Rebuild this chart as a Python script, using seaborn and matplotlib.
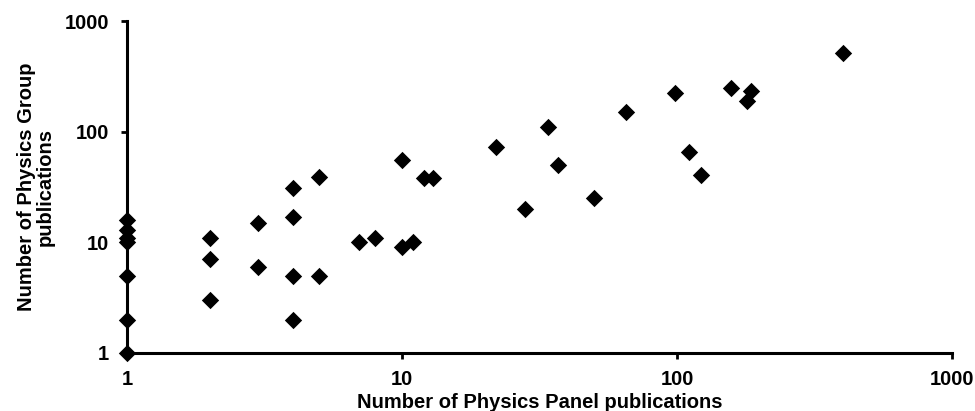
import numpy as np
import pandas as pd
import matplotlib
matplotlib.use("Agg")
import matplotlib.pyplot as plt
import seaborn as sns

# ==============================
# Data
# ==============================
panel_pubs = [1, 1, 1, 1, 1, 1, 1,
              2, 2, 2, 3, 3, 4, 4, 4, 4, 5, 5,
              7, 8, 10, 10, 11, 12, 13,
              22, 28, 34, 37, 50, 65,
              98, 111, 122, 157, 180, 186, 400]
group_pubs = [16, 13, 11, 10, 5, 2, 1,
              11, 7, 3, 15, 6, 31, 17, 5, 2, 39, 5,
              10, 11, 56, 9, 10, 38, 38,
              72, 20, 110, 50, 25, 150,
              223, 65, 41, 248, 189, 233, 513]

tick_values = [1, 10, 100, 1000]
tick_labels = ["1", "10", "100", "1000"]

df = pd.DataFrame({"panel": panel_pubs, "group": group_pubs})

# ==============================
# Plot
# ==============================
sns.set_style("white")
plt.rcParams["font.family"] = ["Liberation Sans", "DejaVu Sans"]
plt.rcParams["font.weight"] = "bold"

fig = plt.figure(figsize=(9.75, 4.11), dpi=100)
ax = fig.add_axes([127 / 975, 1 - 353 / 411, 825 / 975, 332 / 411])

sns.scatterplot(data=df, x="panel", y="group", marker="D", s=78,
                color="black", edgecolor="black", linewidth=0, ax=ax)
ax.collections[0].set_clip_on(False)
ax.collections[0].set_zorder(5)

ax.set_xscale("log")
ax.set_yscale("log")
ax.set_xlim(1, 1000)
ax.set_ylim(1, 1000)

ax.set_xticks(tick_values)
ax.set_xticklabels(tick_labels)
ax.set_yticks(tick_values)
ax.set_yticklabels(tick_labels)
ax.minorticks_off()

ax.tick_params(axis="both", which="major", direction="out", length=4,
               width=2, color="black", labelsize=14.5, labelcolor="black")
ax.tick_params(axis="x", pad=8)
ax.tick_params(axis="y", pad=9)
ax.xaxis.set_ticks_position("bottom")
ax.yaxis.set_ticks_position("left")

for side in ["top", "right"]:
    ax.spines[side].set_visible(False)
for side in ["left", "bottom"]:
    ax.spines[side].set_linewidth(2.2)
    ax.spines[side].set_color("black")

ax.set_xlabel("Number of Physics Panel publications", fontsize=14.5,
              fontweight="bold", color="black", labelpad=3)
ax.set_ylabel("Number of Physics Group\npublications", fontsize=14.5,
              fontweight="bold", color="black", labelpad=7,
              multialignment="center", linespacing=1.0)
ax.grid(False)

plt.savefig("out.png", dpi=100)
